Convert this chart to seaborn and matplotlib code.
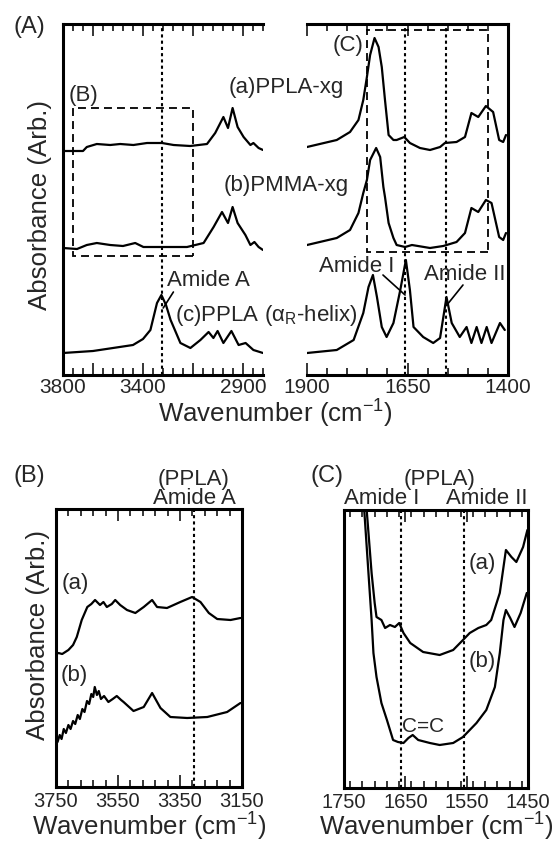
import numpy as np
import seaborn as sns
import matplotlib.pyplot as plt
from matplotlib.patches import Rectangle
from matplotlib.ticker import FixedLocator, MultipleLocator

# ---- data (wavenumber in cm-1, absorbance in arbitrary offset units) ----
# panel A, 3800-2800 region
left_wn_a = [3800, 3700, 3681, 3631, 3564, 3514, 3448, 3380, 3305, 3247, 3164, 3080,
             3039, 2998, 2975, 2952, 2927, 2897, 2863, 2848, 2822, 2800]
left_a = [224, 224, 228, 231, 230, 231, 230, 232, 232, 230, 229, 231,
          242, 258, 247, 267, 248, 238, 230, 232, 227, 225]
left_wn_b = [3800, 3730, 3681, 3631, 3564, 3500, 3439, 3398, 3297, 3180, 3097, 3047,
             3005, 2975, 2952, 2927, 2888, 2863, 2843, 2822, 2800]
left_b = [127, 126, 130, 132, 130, 129, 132, 128, 128, 128, 132, 148,
          163, 152, 168, 152, 140, 130, 133, 128, 125]
left_wn_c = [3800, 3650, 3450, 3400, 3363, 3330, 3308, 3285, 3262, 3213, 3163, 3113,
             3072, 3048, 3027, 2998, 2958, 2922, 2887, 2848, 2800]
left_c = [22, 24, 30, 36, 45, 72, 80, 70, 55, 32, 27, 35,
          43, 37, 44, 32, 44, 30, 32, 25, 22]

# panel A, 1900-1400 region
right_wn_a = [1900, 1826, 1793, 1772, 1760, 1751, 1743, 1732, 1722, 1714, 1706, 1697,
              1685, 1677, 1658, 1644, 1619, 1594, 1569, 1557, 1528, 1507, 1491, 1474,
              1455, 1437, 1422, 1412, 1405]
right_a = [228, 235, 243, 255, 275, 298, 320, 337, 328, 308, 275, 240,
           235, 235, 238, 232, 227, 225, 228, 232, 233, 238, 262, 258,
           269, 263, 235, 233, 240]
right_wn_b = [1900, 1826, 1793, 1772, 1760, 1751, 1743, 1728, 1718, 1710, 1706, 1697,
              1685, 1677, 1656, 1639, 1594, 1561, 1528, 1507, 1491, 1474, 1455, 1441,
              1422, 1412, 1405]
right_b = [130, 137, 145, 162, 182, 195, 215, 227, 218, 188, 178, 152,
           137, 130, 128, 130, 127, 129, 133, 142, 167, 163, 175, 172,
           138, 135, 142]
right_wn_c = [1900, 1826, 1784, 1760, 1747, 1736, 1726, 1714, 1702, 1685, 1668, 1654,
              1644, 1635, 1611, 1586, 1569, 1553, 1540, 1520, 1503, 1491, 1478, 1466,
              1453, 1441, 1420, 1408]
right_c = [22, 25, 35, 62, 88, 100, 78, 48, 38, 52, 85, 115,
           85, 48, 38, 32, 37, 78, 52, 38, 48, 32, 48, 32,
           48, 32, 52, 45]

# panel B, amide A region
b_wn_a = [3748, 3742, 3730, 3710, 3695, 3683, 3667, 3649, 3636, 3624, 3608, 3597,
          3586, 3570, 3559, 3543, 3521, 3494, 3467, 3440, 3424, 3392, 3349, 3311,
          3284, 3257, 3230, 3187, 3155]
b_a = [133, 134, 133, 137, 142, 150, 167, 180, 183, 187, 182, 185,
       180, 183, 187, 182, 177, 174, 180, 187, 180, 179, 185, 190,
       185, 174, 168, 167, 169]
b_wn_b = [3745, 3738, 3732, 3725, 3718, 3710, 3703, 3695, 3688, 3680, 3673, 3665,
          3658, 3650, 3643, 3636, 3630, 3625, 3618, 3612, 3605, 3595, 3581, 3567,
          3554, 3540, 3532, 3500, 3467, 3440, 3413, 3381, 3327, 3262, 3198, 3155]
b_b = [45, 52, 48, 58, 54, 62, 58, 66, 63, 72, 68, 78,
       75, 86, 83, 93, 90, 100, 92, 96, 88, 91, 85, 88,
       91, 87, 85, 76, 80, 94, 79, 70, 69, 70, 75, 84]

# panel C, amide I/II region
c_wn_a = [1750, 1740, 1725, 1713, 1705, 1700, 1697, 1689, 1683, 1675, 1667, 1660,
          1653, 1642, 1621, 1594, 1572, 1556, 1545, 1531, 1518, 1510, 1496, 1486,
          1477, 1469, 1458, 1451]
c_a = [360, 340, 305, 278, 215, 185, 171, 168, 160, 163, 161, 165,
       155, 145, 136, 133, 138, 148, 155, 160, 163, 168, 195, 238,
       231, 226, 241, 258]
c_wn_b = [1750, 1735, 1725, 1717, 1705, 1702, 1697, 1689, 1680, 1670, 1662, 1653,
          1645, 1638, 1629, 1610, 1594, 1572, 1556, 1534, 1518, 1504, 1496, 1490,
          1486, 1479, 1472, 1462, 1452]
c_b = [400, 360, 320, 278, 168, 135, 111, 85, 68, 48, 46, 45,
       50, 53, 48, 45, 43, 45, 51, 65, 78, 101, 135, 168,
       178, 170, 161, 175, 195]

amide_a = 3305
amide_i = 1657
amide_ii = 1555
box_b_wn = [3750, 3150]
box_b_h = [119, 267]
box_c_wn = [1750, 1450]
box_c_h = [123, 345]

# ---- style ----
sns.set_theme(style='white')
plt.rcParams['font.family'] = ['Liberation Sans', 'DejaVu Sans']
plt.rcParams['mathtext.default'] = 'regular'

W, H = 557, 843
fig = plt.figure(figsize=(W / 100, H / 100), dpi=100)
axA1 = fig.add_axes([63 / W, 1 - 375 / H, 200 / W, 351 / H])
axA2 = fig.add_axes([307 / W, 1 - 375 / H, 201 / W, 351 / H])
axB = fig.add_axes([56 / W, 1 - 787 / H, 186 / W, 278 / H])
axC = fig.add_axes([344 / W, 1 - 788 / H, 184 / W, 278 / H])

lw = 1.6
dot = (0, (1.5, 1.5))
dash = (0, (4.4, 2.8))


def curve(ax, x, y):
    sns.lineplot(x=x, y=y, ax=ax, color='black', lw=lw, estimator=None)


curve(axA1, left_wn_a, left_a)
curve(axA1, left_wn_b, left_b)
curve(axA1, left_wn_c, left_c)
curve(axA2, right_wn_a, right_a)
curve(axA2, right_wn_b, right_b)
curve(axA2, right_wn_c, right_c)
curve(axB, b_wn_a, b_a)
curve(axB, b_wn_b, b_b)
curve(axC, c_wn_a, c_a)
curve(axC, c_wn_b, c_b)

axA1.set_xlim(3800, 2800)
axA2.set_xlim(1900, 1400)
axB.set_xlim(3750, 3150)
axC.set_xlim(1750, 1450)
for ax in (axA1, axA2):
    ax.set_ylim(0, 351)
axB.set_ylim(0, 278)
axC.set_ylim(0, 278)

# ticks
axA1.xaxis.set_major_locator(FixedLocator([3800, 3650, 3400, 3150, 2900]))
axA1.set_xticklabels(['3800', '', '3400', '', '2900'])
axA1.xaxis.set_minor_locator(MultipleLocator(50))
axA2.xaxis.set_major_locator(FixedLocator([1900, 1650, 1400]))
axA2.xaxis.set_minor_locator(MultipleLocator(50))
axB.xaxis.set_major_locator(FixedLocator([3750, 3550, 3350, 3150]))
axB.xaxis.set_minor_locator(FixedLocator(np.arange(3150, 3751, 40)))
axC.xaxis.set_major_locator(FixedLocator([1750, 1650, 1550, 1450]))
axC.xaxis.set_minor_locator(MultipleLocator(20))

for ax in (axA1, axA2, axB, axC):
    ax.set_facecolor('none')
    ax.set_yticks([])
    ax.set_xlabel('')
    ax.set_ylabel('')
    ax.tick_params(axis='x', which='both', direction='in', top=True, bottom=True,
                   width=1.1, color='black', labelsize=15)
    ax.tick_params(axis='x', which='major', length=8.5)
    ax.tick_params(axis='x', which='minor', length=4.8)
    for s in ax.spines.values():
        s.set_linewidth(2.2)
        s.set_color('black')
for ax in (axA1, axA2):
    ax.tick_params(axis='x', which='both', pad=2.5)
for ax in (axB, axC):
    ax.tick_params(axis='x', which='both', pad=3.5, labelsize=14.5)
axA1.spines['right'].set_visible(False)
axA2.spines['left'].set_visible(False)

# dotted reference lines
axA1.axvline(amide_a, color='black', lw=1.5, ls=dot)
axA2.axvline(amide_i, color='black', lw=1.5, ls=dot)
axA2.axvline(amide_ii, color='black', lw=1.5, ls=dot)
axB.axvline(amide_a, color='black', lw=1.5, ls=dot)
axC.axvline(amide_i, color='black', lw=1.5, ls=dot)
axC.axvline(amide_ii, color='black', lw=1.5, ls=dot)

# dashed zoom boxes
axA1.add_patch(Rectangle((min(box_b_wn), box_b_h[0]), abs(box_b_wn[0] - box_b_wn[1]),
                         box_b_h[1] - box_b_h[0], fill=False, ec='black', lw=1.3, ls=dash))
axA2.add_patch(Rectangle((min(box_c_wn), box_c_h[0]), abs(box_c_wn[0] - box_c_wn[1]),
                         box_c_h[1] - box_c_h[0], fill=False, ec='black', lw=1.3, ls=dash))

# annotations, panel A
fs = 16
axA1.text(2974, 287, '(a)PPLA-xg', fontsize=fs, ha='left', va='center', clip_on=False)
axA1.text(2998, 189, '(b)PMMA-xg', fontsize=fs, ha='left', va='center', clip_on=False)
axA1.text(3699, 279, '(B)', fontsize=fs, ha='center', va='center')
axA1.text(3278, 94, 'Amide A', fontsize=fs, ha='left', va='center')
axA1.plot([3299, 3248], [67, 83], color='black', lw=1.2)
axA1.text(3238, 60, '(c)PPLA (α$_R$-helix)', fontsize=fs, ha='left', va='center', clip_on=False)
axA2.text(1797, 329, '(C)', fontsize=fs, ha='center', va='center')
axA2.text(1776, 108, 'Amide I', fontsize=fs, ha='center', va='center')
axA2.plot([1711, 1656], [100, 80], color='black', lw=1.2)
axA2.text(1507, 101, 'Amide II', fontsize=fs, ha='center', va='center', clip_on=False)
axA2.plot([1512, 1552], [90, 70], color='black', lw=1.2)

# annotations, panel B
axB.text(3689, 204, '(a)', fontsize=fs, ha='center', va='center')
axB.text(3692, 111, '(b)', fontsize=fs, ha='center', va='center')
axB.text(amide_a, 308, '(PPLA)', fontsize=fs, ha='center', va='center', clip_on=False)
axB.text(amide_a, 289, 'Amide A', fontsize=fs, ha='center', va='center', clip_on=False)

# annotations, panel C
axC.text(1595, 308, '(PPLA)', fontsize=fs, ha='center', va='center', clip_on=False)
axC.text(1688, 289, 'Amide I', fontsize=fs, ha='center', va='center', clip_on=False)
axC.text(1517, 289, 'Amide II', fontsize=fs, ha='center', va='center', clip_on=False)
axC.text(1524, 224, '(a)', fontsize=fs, ha='center', va='center')
axC.text(1524, 127, '(b)', fontsize=fs, ha='center', va='center')
axC.text(1621, 62, 'C=C', fontsize=15, ha='center', va='center')

# panel letters and axis labels
fig.text(29 / W, 1 - 27 / H, '(A)', fontsize=17, ha='center', va='center')
fig.text(29 / W, 1 - 476 / H, '(B)', fontsize=17, ha='center', va='center')
fig.text(327 / W, 1 - 476 / H, '(C)', fontsize=17, ha='center', va='center')

lab = 18.6
fig.text(275 / W, 1 - 414 / H, 'Wavenumber (cm$^{-1}$)', fontsize=lab, ha='center', va='center')
fig.text(149 / W, 1 - 827 / H, 'Wavenumber (cm$^{-1}$)', fontsize=lab, ha='center', va='center')
fig.text(436 / W, 1 - 827 / H, 'Wavenumber (cm$^{-1}$)', fontsize=lab, ha='center', va='center')
fig.text(40 / W, 1 - 205 / H, 'Absorbance (Arb.)', fontsize=lab, rotation=90, ha='center', va='center')
fig.text(38 / W, 1 - 635 / H, 'Absorbance (Arb.)', fontsize=lab, rotation=90, ha='center', va='center')

fig.savefig('out.png', dpi=100)
